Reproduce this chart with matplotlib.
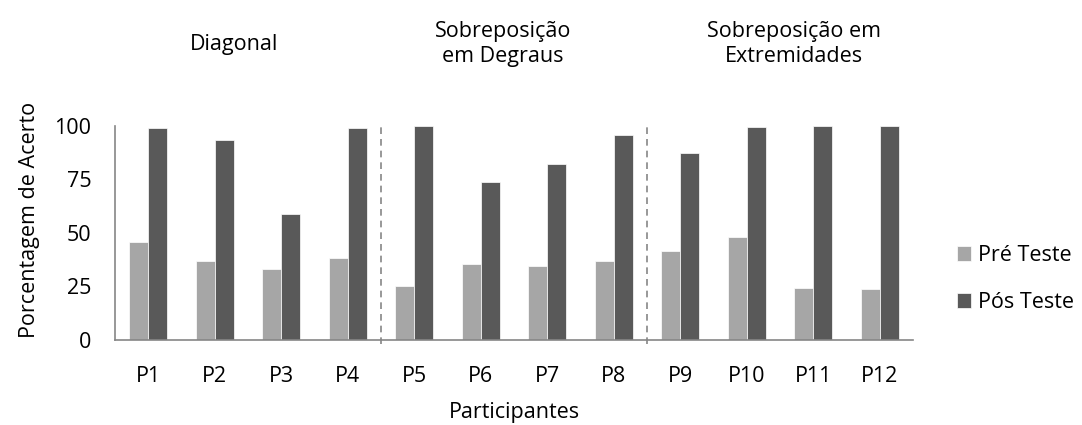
import numpy as np
import matplotlib
matplotlib.use('Agg')
import matplotlib.pyplot as plt

plt.rcParams['font.family'] = ['Open Sans', 'DejaVu Sans']

participantes = ['P1', 'P2', 'P3', 'P4', 'P5', 'P6', 'P7', 'P8', 'P9', 'P10', 'P11', 'P12']
pre_teste = [45.8, 36.8, 32.9, 38.0, 25.2, 35.4, 34.3, 36.8, 41.3, 48.2, 24.0, 23.8]
pos_teste = [99.2, 93.4, 58.8, 99.2, 100, 73.9, 82.0, 95.8, 87.2, 99.4, 100, 100]
grupos = ['Diagonal', 'Sobreposição\nem Degraus', 'Sobreposição em\nExtremidades']
yticks = [0, 25, 50, 75, 100]

COR_PRE = '#a6a6a6'
COR_POS = '#595959'
EIXO = '#868686'
FS = 15.5

fig = plt.figure(figsize=(10.82, 4.25), dpi=100)
ax = fig.add_axes([115 / 1082, (425 - 339.5) / 425, 798 / 1082, 213.5 / 425])

x = np.arange(len(participantes))
w = 0.286
ax.bar(x - w / 2, pre_teste, w, color=COR_PRE, edgecolor='white', linewidth=0.5, label='Pré Teste')
ax.bar(x + w / 2, pos_teste, w, color=COR_POS, edgecolor='white', linewidth=0.5, label='Pós Teste')

ax.set_xlim(-0.5, len(participantes) - 0.5)
ax.set_ylim(0, 100)
ax.set_yticks(yticks)
ax.set_xticks(x)
ax.set_xticklabels(participantes)
ax.tick_params(axis='y', length=0, labelsize=FS, colors='black', pad=17)
ax.tick_params(axis='x', length=0, labelsize=FS, colors='black', pad=19)

for s in ['top', 'right']:
    ax.spines[s].set_visible(False)
for s in ['left', 'bottom']:
    ax.spines[s].set_color(EIXO)
    ax.spines[s].set_linewidth(1.2)

# separadores entre grupos
for sep in [3.5, 7.5]:
    ax.axvline(sep, ymin=-0.02, ymax=1.0, color=EIXO, linestyle=(0, (4, 3)), linewidth=1.2, clip_on=False)

# titulos dos grupos
pos_grupos = [1.29, 5.33, 9.71]
for gx, g in zip(pos_grupos, grupos):
    ax.text(gx, 1.384, g, transform=ax.get_xaxis_transform(), ha='center', va='center',
            fontsize=FS, linespacing=1.3)

ax.set_ylabel('Porcentagem de Acerto', fontsize=FS, labelpad=10)
ax.yaxis.label.set_y(0.56)
ax.set_xlabel('Participantes', fontsize=FS, labelpad=11)

fig.legend(loc='center left', bbox_to_anchor=(938 / 1082, (425 - 279) / 425), frameon=False,
           fontsize=FS, handlelength=0.65, handleheight=0.65, handletextpad=0.3, labelspacing=1.2)

fig.savefig('out.png', dpi=100)
